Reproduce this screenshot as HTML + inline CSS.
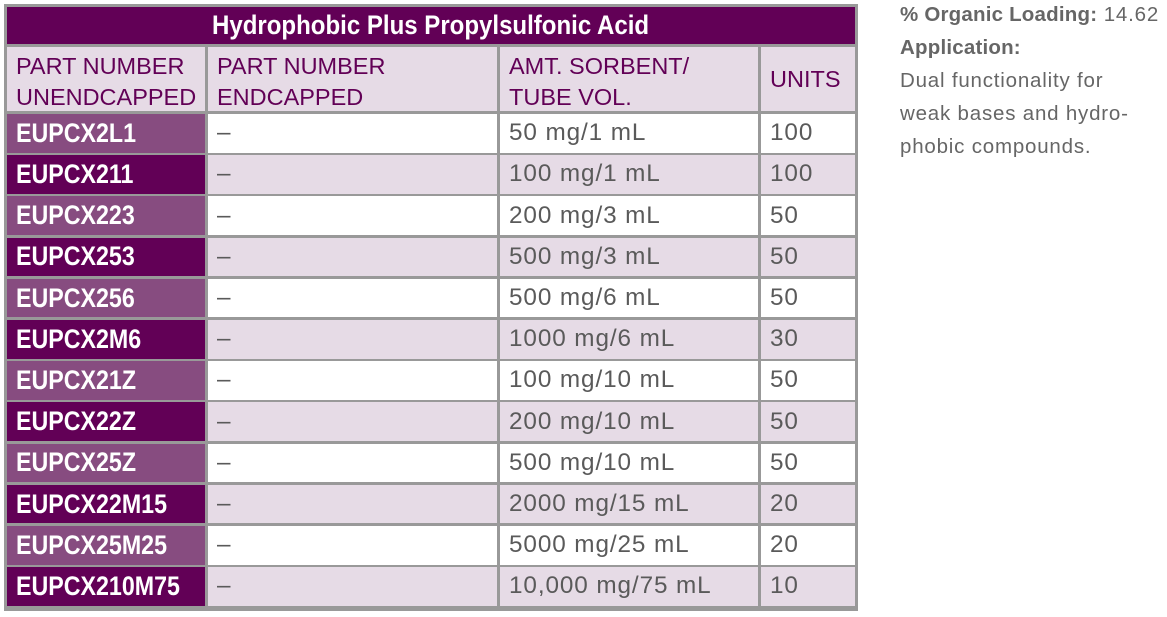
<!DOCTYPE html>
<html><head><meta charset="utf-8"><style>
body{margin:0;width:1167px;height:617px;background:#fff;position:relative;overflow:hidden;font-family:"Liberation Sans",sans-serif}
.t{position:absolute;left:4px;top:4px;width:854px;height:607px;background:#999}
.c{position:absolute;box-sizing:border-box;padding-left:9px;display:flex;align-items:center;color:#5a5a5a;font-size:24.3px;letter-spacing:0.9px;white-space:nowrap}
.pn{font-weight:bold;color:#fff;font-size:27px;letter-spacing:0}
.pn span{display:inline-block;transform:scaleX(0.86);transform-origin:left center}
.h{color:#620056;font-size:23.5px;line-height:31px;align-items:flex-start;padding-top:4px;letter-spacing:0}
.side{position:absolute;left:900px;color:#666;font-size:20.5px;line-height:33px;letter-spacing:0.8px}
.side b{color:#666;letter-spacing:0.2px}
</style></head><body>
<div class="t"></div>
<div class="c pn" style="left:7px;top:7px;width:848px;height:37px;background:#620056;justify-content:center;padding:0;font-size:27px"><span style="transform:scaleX(0.89);transform-origin:center">Hydrophobic Plus Propylsulfonic Acid</span></div>
<div class="c h" style="left:7px;top:47px;width:198px;height:64px;background:#e6dbe6">PART NUMBER<br>UNENDCAPPED</div>
<div class="c h" style="left:208px;top:47px;width:289px;height:64px;background:#e6dbe6">PART NUMBER<br>ENDCAPPED</div>
<div class="c h" style="left:500px;top:47px;width:258px;height:64px;background:#e6dbe6">AMT. SORBENT/<br>TUBE VOL.</div>
<div class="c h" style="left:761px;top:47px;width:94px;height:64px;background:#e6dbe6;align-items:center;padding-top:0">UNITS</div>
<div id="rows"></div>
<div class="side" style="top:-2px">
<b>% Organic Loading:</b> 14.62<br><b>Application:</b><br>Dual functionality for<br>weak bases and hydro-<br>phobic compounds.</div>
<script>
var d=[["EUPCX2L1","50 mg/1 mL","100"],["EUPCX211","100 mg/1 mL","100"],["EUPCX223","200 mg/3 mL","50"],["EUPCX253","500 mg/3 mL","50"],["EUPCX256","500 mg/6 mL","50"],["EUPCX2M6","1000 mg/6 mL","30"],["EUPCX21Z","100 mg/10 mL","50"],["EUPCX22Z","200 mg/10 mL","50"],["EUPCX25Z","500 mg/10 mL","50"],["EUPCX22M15","2000 mg/15 mL","20"],["EUPCX25M25","5000 mg/25 mL","20"],["EUPCX210M75","10,000 mg/75 mL","10"]];
var h="";
d.forEach(function(r,i){var y=114+i*41.2,odd=i%2==0,bg=odd?"#fff":"#e6dbe6",pb=odd?"#874c80":"#620056";
h+='<div class="c pn" style="left:7px;top:'+y+'px;width:198px;height:38.5px;background:'+pb+'"><span>'+r[0]+'</span></div>';
h+='<div class="c" style="left:208px;top:'+y+'px;width:289px;height:38.5px;background:'+bg+'">–</div>';
h+='<div class="c" style="left:500px;top:'+y+'px;width:258px;height:38.5px;background:'+bg+'">'+r[1]+'</div>';
h+='<div class="c" style="left:761px;top:'+y+'px;width:94px;height:38.5px;background:'+bg+'">'+r[2]+'</div>';});
document.getElementById("rows").innerHTML=h;
</script>
</body></html>
